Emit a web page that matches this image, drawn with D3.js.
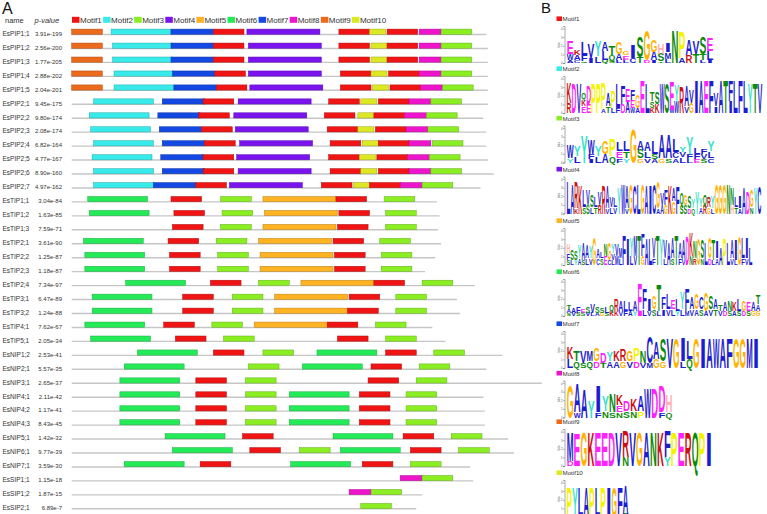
<!DOCTYPE html>
<html><head><meta charset="utf-8">
<script src="https://cdn.jsdelivr.net/npm/d3@7"></script>
<style>body{margin:0;background:#fff}svg{display:block}</style>
</head><body>
<svg id="c" width="767" height="514"></svg>
<script>
// ---------- DATA ----------
const motifNames = ["Motif1","Motif2","Motif3","Motif4","Motif5","Motif6","Motif7","Motif8","Motif9","Motif10"];
const motifWidths = [21,41,21,50,50,41,29,15,21,11]; // aa
const geneNames = ["EsPIP1;1","EsPIP1;2","EsPIP1;3","EsPIP1;4","EsPIP1;5","EsPIP2;1","EsPIP2;2","EsPIP2;3","EsPIP2;4","EsPIP2;5","EsPIP2;6","EsPIP2;7",
"EsTIP1;1","EsTIP1;2","EsTIP1;3","EsTIP2;1","EsTIP2;2","EsTIP2;3","EsTIP2;4","EsTIP3;1","EsTIP3;2","EsTIP4;1","EsTIP5;1",
"EsNIP1;2","EsNIP2;1","EsNIP3;1","EsNIP4;1","EsNIP4;2","EsNIP4;3","EsNIP5;1","EsNIP6;1","EsNIP7;1","EsSIP1;1","EsSIP1;2","EsSIP2;1"];
const pValues = ["3.91e-199","2.56e-200","1.77e-205","2.88e-202","2.04e-201","9.45e-175","9.80e-174","2.08e-174","6.82e-164","4.77e-167","8.90e-160","4.97e-162",
"3.04e-84","1.63e-85","7.59e-71","3.61e-90","1.25e-87","1.18e-87","7.34e-97","6.47e-89","1.24e-88","7.62e-67","2.05e-34",
"2.53e-41","5.57e-35","2.65e-37","2.11e-42","1.17e-41","8.43e-45","1.42e-32","9.77e-39","3.59e-30","1.15e-18","1.87e-15","6.89e-7"];
const seqLengths = [284,285,285,285,285,285,282,284,284,285,289,280,250,252,251,253,249,242,276,264,266,247,256,295,284,322,282,283,283,299,303,273,275,240,236];
// [motif number, start position (aa)]
const motifSites = [
 [[9,0],[2,27],[7,68],[1,97],[4,120],[1,183],[10,204],[1,216],[8,238],[3,253]],
 [[9,0],[2,28],[7,68],[1,97],[4,121],[1,183],[10,205],[1,216],[8,238],[3,253]],
 [[9,0],[2,28],[7,68],[1,97],[4,121],[1,183],[10,205],[1,216],[8,238],[3,253]],
 [[9,0],[2,29],[7,69],[1,98],[4,121],[1,184],[10,205],[1,217],[8,238],[3,253]],
 [[9,0],[2,29],[7,70],[1,99],[4,122],[1,184],[10,206],[1,218],[8,239],[3,254]],
 [[2,15],[7,62],[1,90],[4,114],[1,176],[10,198],[1,210],[8,231],[3,246]],
 [[2,12],[7,59],[1,87],[4,111],[1,173],[10,196],[1,207],[8,228],[3,243]],
 [[2,13],[7,60],[1,89],[4,112],[1,175],[10,196],[1,208],[8,229],[3,244]],
 [[2,15],[7,62],[1,91],[4,115],[1,177],[10,199],[1,210],[8,231],[3,247]],
 [[2,14],[7,61],[1,90],[4,113],[1,176],[10,197],[1,209],[8,230],[3,245]],
 [[2,15],[7,62],[1,90],[4,114],[1,177],[10,198],[1,210],[8,231],[3,246]],
 [[2,15],[7,56],[1,85],[4,108],[1,171],[10,193],[1,204],[8,225],[3,240]],
 [[6,11],[1,68],[3,102],[5,131],[1,181],[3,214]],
 [[6,12],[1,70],[3,103],[5,132],[1,183],[3,215]],
 [[1,69],[3,102],[5,131],[1,182],[3,215]],
 [[6,8],[1,66],[3,99],[5,128],[1,179],[3,211]],
 [[6,9],[1,67],[3,100],[5,129],[1,180],[3,212]],
 [[6,9],[1,67],[3,100],[5,129],[1,180],[3,212]],
 [[6,37],[1,95],[3,128],[5,157],[1,207],[3,240]],
 [[6,14],[1,76],[3,110],[5,139],[1,190],[3,222]],
 [[6,14],[1,76],[3,110],[5,139],[1,189],[3,222]],
 [[6,9],[1,63],[3,96],[5,125],[1,175],[3,208]],
 [[6,13],[1,71],[3,104],[1,182],[3,215]],
 [[6,45],[1,97],[3,131],[6,168],[1,215],[3,248]],
 [[6,36],[3,121],[6,158],[1,205],[3,238]],
 [[6,33],[1,85],[3,119],[1,203],[3,236]],
 [[6,33],[1,85],[3,119],[6,149],[1,197],[3,229]],
 [[6,33],[1,85],[3,119],[6,149],[1,197],[3,229]],
 [[6,33],[1,85],[3,119],[6,149],[1,197],[3,229]],
 [[6,64],[1,117],[6,179],[1,227],[3,260]],
 [[6,69],[1,122],[3,156],[6,184],[1,232],[3,265]],
 [[6,36],[1,88],[6,150],[1,199],[3,232]],
 [[8,225],[3,240]],
 [[8,190],[3,205]],
 [[3,198]]
];
// Sequence logos: each column lists letters top-to-bottom with height in tenths of bits
const logo1 = ["E16W8A3","K6A6C3","L15F7Q2","V17I6","Y18L8","A10L10Q4","T11Q6S3","G13A8L3","G5E5L4","I16C6","S25T7","G36D3","G14A10I3","H12S9T2","I10M8L5","N39","P30A6","A18R9","V15T10","S20T8L3","E15L10I4"];
const logo2 = ["K25R12","D35","V36","Q8K8E8","D22E10","P36","P36","P30A5","A16T8","P20L6","L29F6","F22D10","E15A13","F12E9W6","G16A6","E38","L35","T10S8K6","S14K10","W35","S36","E34W4","Y20W13","R30","A24V8","V15G12","I38","A38","E38","F38","V15I8","A38","T38","F24I14","L38","F38","L38","Y36","T36","V36"];
const logo3 = ["W16Y5","Y12L8","Y33","W17F6I4","Y12L8","G15A10","P20Q8","L10E8F5","L12T8Y5","G40","A10S10G5","A10L8V5","L15S6A4","A28G5","A28S5","L15C7A5","Y6V6L6","Y20F6L4","L8F6E4","F6V6S4","Y12L8C5"];
const logo4 = ["L38","A36","R30K6","K34","L20S8","V18S10","S14L8","L12T8","V16R10","R34","A26V6","V12L8","L10V8","Y30","W36","A26V6","G36","C34","L36","G36","A34","I34","C36","G30A6","V14A10","F18G10","K34","A16G14","F32","Q14S10","G12S10","S14D6","Y10Q6","Y26","Y10A8","Q12R10","R12G8","Y14L6","G36","G36","G36","N36","N20H10","L12T8","I14A6","A30","D26","G20N8","Y30","C32"];
const logo5 = ["H10F8S6","S12L6","S10Y6","Y16A8","A20S6","A16L8","Y14V8","G32","A10C8","L8S8","N14E10","G20C6","Y10V8L6","V14M10","M12L8","F36","I30","Y22L10","M24V10","T36","F26G10","A30","L30","V24F8","T36","Y30","V22L8","A26","A24S8","T36","A18F8","A24V6","D34","K28N10","N20R8","G30","S22N8","L26","G24D8","T24L6","I20A8","A20","P30","L26","A22V8","I24L6","G34","L24F8","I24V8","L20"];
const logo6 = ["T6A4S3","A6V4","F8S4","E5S4","S8V4","V10L4","S8A4","S6G4","L8S4","Q8K6","R14K6","A12V6","L12F6","L10A6","A12Y6","E38","F24L8","I14V6","G16S8","T30L6","F14I8","L18V8","E10L8","L14Y6","Y20L8","F26M6","A14V8","G18A8","C14S8","G22A6","S16V8","A12T8","T8V6","A10D6","N12S6","K10A6","L14S6","G12D6","E10S6","A10G6","T10A8G6"];
const logo7 = ["K14L10","T12Q8","V14S6","M12Q8","G16D8","D12T6","Y10A8","K12A8","R14G8","G12V8","P16D8","N14V6","C30M6","A20G10","S26G8","V36","G36","I28L8","L22Q10","G36","I36","A36","W36","A36","F36","G36","G36","M36","I36"];
const logo8 = ["G38","A34W6","A34","Y20","I30F6","Y18N8","N22S6","K12E8N6","D12S8","K14N8","A18P8","W36","D36","D30F6","H20Q6"];
const logo9 = ["M34D6","E38","G40","K40","E40","E40","D40","V40","R30N10","V40","G40","A40","N40","K40","F30Y10","P40","E40","R40","Q40","P40","I40"];
const logo10 = ["P36","Y36","L36","A36","P36","L36","P36","I36","G36","F36","A34T4"];
const logos = [logo1,logo2,logo3,logo4,logo5,logo6,logo7,logo8,logo9,logo10];

// ---------- STYLE / LAYOUT ----------
const motifColors = ["#f01414","#38eaea","#8aee22","#7a14ee","#ffb222","#24ea58","#1448e2","#ee14cc","#ec6a1c","#dce824"];
const aaColor = c => "ACFILVWM".includes(c) ? "#1c1cd0" : "NQST".includes(c) ? "#0a8a0a" : "DE".includes(c) ? "#ff22ff" :
  "KR".includes(c) ? "#d01010" : c==="H" ? "#ffb0b0" : c==="G" ? "#ffb300" : c==="P" ? "#f4f400" : c==="Y" ? "#36e2cc" : "#888";
const logoLabelY = [19,69,118.5,169.5,221,272,324,373.5,422,473];
const logoWidthPx = [147,196,148,195,186,194,193,106,146,62];
const FONT = "'Liberation Sans', Arial, sans-serif";

const svg = d3.select("#c");
const x = d3.scaleLinear().domain([0, 330]).range([71.7, 71.7 + 330*1.46]);
const y = d3.scalePoint().domain(d3.range(geneNames.length)).range([34.3, 34.3 + 34*13.95]);

// Panel A title & header
svg.append("text").attr("x",2).attr("y",14).attr("font-family",FONT).attr("font-size",16).attr("fill","#111").text("A");
svg.append("text").attr("x",5).attr("y",23).attr("font-family",FONT).attr("font-size",7.5).attr("fill","#333").text("name");
svg.append("text").attr("x",34.5).attr("y",23).attr("font-family",FONT).attr("font-size",7.5).attr("font-style","italic").attr("fill","#333").text("p-value");

// Legend
const leg = svg.append("g").selectAll("g").data(motifNames).join("g")
  .attr("transform",(d,i)=>`translate(${72 + i*31.1},0)`);
leg.append("rect").attr("x",0).attr("y",16.8).attr("width",7.5).attr("height",6).attr("fill",(d,i)=>motifColors[i]);
leg.append("text").attr("x",8).attr("y",22.8).attr("font-family",FONT).attr("font-size",8).attr("fill","#333").text(d=>d);

// Rows
const rows = svg.append("g").selectAll("g").data(geneNames).join("g");
rows.append("text").attr("x",2.5).attr("y",(d,i)=>y(i)+1.5).attr("font-family",FONT).attr("font-size",6.5).attr("fill","#333").text(d=>d);
rows.append("text").attr("x",62).attr("y",(d,i)=>y(i)+1.5).attr("text-anchor","end").attr("font-family",FONT).attr("font-size",6).attr("fill","#333").text((d,i)=>pValues[i]);
rows.append("line").attr("x1",x(0)).attr("x2",(d,i)=>x(seqLengths[i])).attr("y1",(d,i)=>y(i)+0.2).attr("y2",(d,i)=>y(i)+0.2)
  .attr("stroke","#c6c6c6").attr("stroke-width",1.4);
rows.each(function(d,i){
  d3.select(this).selectAll("rect").data(motifSites[i]).join("rect")
    .attr("x",s=>x(s[1])).attr("width",s=>x(s[1]+motifWidths[s[0]-1])-x(s[1]))
    .attr("y",y(i)-5.2).attr("height",5.2)
    .attr("fill",s=>motifColors[s[0]-1])
    .attr("stroke",s=>d3.color(motifColors[s[0]-1]).darker(0.9)).attr("stroke-width",0.5);
});

// Panel B
svg.append("text").attr("x",541).attr("y",13).attr("font-family",FONT).attr("font-size",15).attr("fill","#111").text("B");
const bitPx = 8.6, capH = 0.716*10;
logos.forEach((cols,m)=>{
  const g = svg.append("g");
  const ly = logoLabelY[m];
  g.append("rect").attr("x",556.5).attr("y",ly-2.6).attr("width",5.5).attr("height",4.6).attr("fill",motifColors[m]);
  g.append("text").attr("x",562.5).attr("y",ly+2).attr("font-family",FONT).attr("font-size",6.2).attr("fill","#333").text(motifNames[m]);
  const base = ly + 44, x0 = 566.5;
  const cx = d3.scaleBand().domain(d3.range(cols.length)).range([x0, x0 + logoWidthPx[m]]).padding(0.02);
  const yb = d3.scaleLinear().domain([0,4.3]).range([base, base - 4.3*bitPx]);
  // y axis
  const ax = g.append("g").attr("transform",`translate(${x0-2},0)`)
    .call(d3.axisLeft(yb).ticks(4).tickSize(1.5).tickFormat(d3.format("d")));
  ax.select(".domain").attr("stroke","#555").attr("stroke-width",0.5);
  ax.selectAll(".tick line").attr("stroke","#555").attr("stroke-width",0.5);
  ax.selectAll(".tick text").attr("font-size",2.8).attr("fill","#555").attr("x",-2);
  g.append("text").attr("transform",`translate(${x0-7},${base-18}) rotate(-90)`).attr("text-anchor","middle")
    .attr("font-family",FONT).attr("font-size",3.2).attr("fill","#555").text("bits");
  cols.forEach((col,ci)=>{
    const parts = [...col.matchAll(/([A-Z])(\d+)/g)].map(p=>[p[1], +p[2]/10]);
    let cum = 0;
    parts.slice().reverse().forEach(([aa,h])=>{
      const y0 = yb(cum), y1 = yb(cum+h);
      const hp = y0 - y1;
      cum += h;
      if (hp < 0.4) return;
      g.append("text").attr("x",0).attr("y",0)
        .attr("font-family",FONT).attr("font-weight","bold").attr("font-size",10)
        .attr("textLength",cx.bandwidth()).attr("lengthAdjust","spacingAndGlyphs")
        .attr("transform",`translate(${cx(ci)},${y0}) scale(1,${hp/capH})`)
        .attr("fill",aaColor(aa)).text(aa);
    });
  });
});
</script>
</body></html>
